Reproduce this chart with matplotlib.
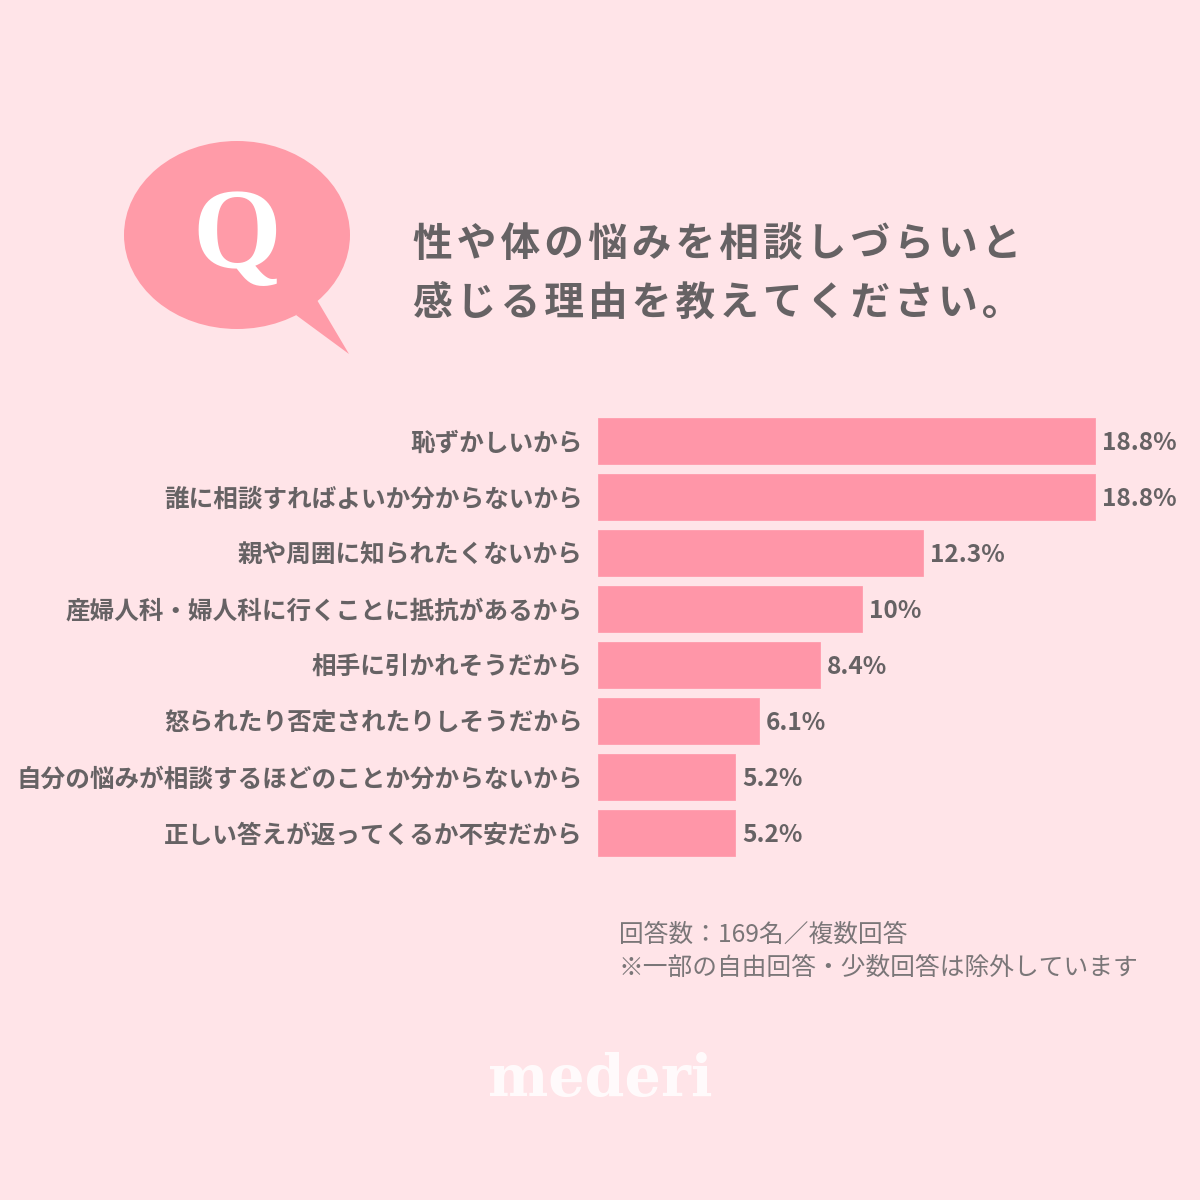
import matplotlib
matplotlib.use("Agg")
import matplotlib.pyplot as plt
from matplotlib.patches import Ellipse, Polygon

plt.rcParams['font.family'] = ['Noto Sans CJK JP', 'DejaVu Sans']

reasons = [
    "恥ずかしいから",
    "誰に相談すればよいか分からないから",
    "親や周囲に知られたくないから",
    "産婦人科・婦人科に行くことに抵抗があるから",
    "相手に引かれそうだから",
    "怒られたり否定されたりしそうだから",
    "自分の悩みが相談するほどのことか分からないから",
    "正しい答えが返ってくるか不安だから",
]
percents = [18.8, 18.8, 12.3, 10, 8.4, 6.1, 5.2, 5.2]
title_lines = ["性や体の悩みを相談しづらいと", "感じる理由を教えてください。"]
note_lines = ["回答数：169名／複数回答", "※一部の自由回答・少数回答は除外しています"]

BG = "#FFE4E8"
PINK = "#FF96A8"
BUBBLE = "#FF9BA8"
TEXT = "#666264"
SIZE = 1200


def px(n):
    # font size given in image pixels (dpi 100)
    return n * 0.72


def spaced(s):
    # letter spacing: hair space comes from the DejaVu fallback
    return "\u200a".join(s)


fig = plt.figure(figsize=(12, 12), dpi=100, facecolor=BG)

# background layer in image pixels, y going down
bg = fig.add_axes([0, 0, 1, 1])
bg.set_xlim(0, SIZE)
bg.set_ylim(SIZE, 0)
bg.axis('off')

bg.add_patch(Ellipse((237, 235), 226, 188, fc=BUBBLE, ec='none'))
bg.add_patch(Polygon([(296, 315), (317, 300), (349, 354)], closed=True, fc=BUBBLE, ec='none'))
bg.text(237, 267, "Q", family='Liberation Serif', fontweight='bold', fontsize=px(114), color='white',
        ha='center', va='baseline')

for text, y in zip(title_lines, [245, 303]):
    bg.text(413, y, spaced(text), fontsize=px(39.7), fontweight='bold', color=TEXT,
            ha='left', va='center')

for text, y in zip(note_lines, [935, 968]):
    bg.text(619, y, text, fontsize=px(24.7), color="#7A7678", ha='left', va='center')

bg.text(600, 1096, "mederi", family='DejaVu Serif', fontweight='bold', fontsize=px(57),
        color='white', alpha=0.85, ha='center', va='baseline')

# bar chart
top, bottom = 413, 861
ax = fig.add_axes([598 / SIZE, 1 - bottom / SIZE, (1096 - 598) / SIZE, (bottom - top) / SIZE])
ax.patch.set_alpha(0)
ypos = list(range(len(reasons)))
bars = ax.barh(ypos, percents, height=0.81, color=PINK, edgecolor=PINK, linewidth=0.5)
for b in bars:
    b.set_joinstyle('round')
ax.set_xlim(0, 18.85)
ax.set_ylim(len(reasons) - 0.5, -0.5)
ax.set_xticks([])
ax.set_yticks(ypos)
ax.set_yticklabels(reasons, fontsize=px(24.6), fontweight='bold', color=TEXT)
ax.tick_params(axis='y', length=0, pad=11)
for s in ax.spines.values():
    s.set_visible(False)

for y, v in zip(ypos, percents):
    ax.annotate(f"{v}%", (v, y), xytext=(5, -1.5), textcoords='offset points', fontsize=px(24.5),
                fontweight='bold', color=TEXT, ha='left', va='center', annotation_clip=False)

fig.savefig("out.png", dpi=100, facecolor=BG)
